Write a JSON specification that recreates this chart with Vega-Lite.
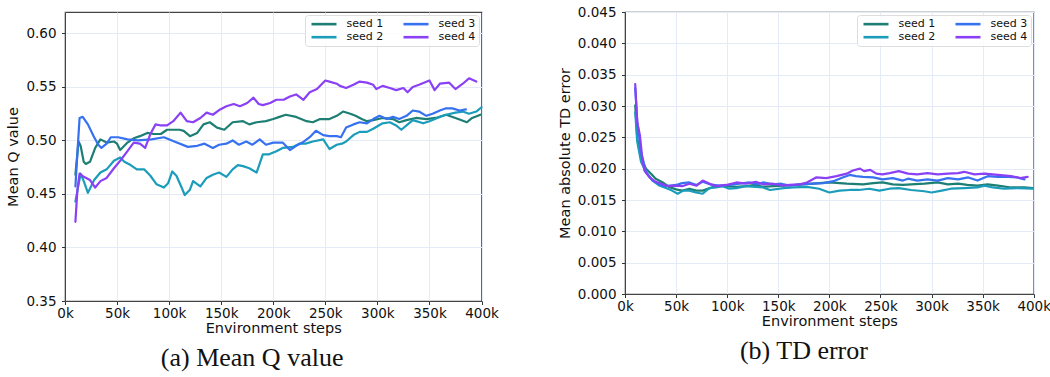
{
"$schema": "https://vega.github.io/schema/vega-lite/v6.json",
"background": "white",
"padding": {"left": 5, "top": 4, "right": 3, "bottom": 0},
"spacing": 57,
"config": {
  "font": "DejaVu Sans",
  "view": {"stroke": "#444", "strokeWidth": 1.2},
  "axis": {"labelFont": "DejaVu Sans", "labelFontSize": 13.5, "labelColor": "#111", "titleFont": "DejaVu Sans", "titleFontSize": 14.5, "titleFontWeight": "normal", "titleColor": "#111", "gridColor": "#e4ebf6", "gridWidth": 1, "tickColor": "#333", "tickSize": 3.5, "domainColor": "#444"},
  "axisY": {"labelPadding": 5.5, "titlePadding": 5},
  "axisX": {"labelPadding": 2, "titlePadding": 1},
  "legend": {"orient": "top-right", "offset": 3, "columns": 2, "symbolType": "M-1,0H9", "symbolSize": 25, "symbolStrokeWidth": 2.6, "labelFont": "DejaVu Sans", "labelFontSize": 11, "labelColor": "#111", "strokeColor": "#ddd", "fillColor": "rgba(255,255,255,0.85)", "cornerRadius": 3, "padding": 3.5, "rowPadding": 1.2, "columnPadding": 14, "labelOffset": 27, "title": null},
  "title": {"font": "Liberation Serif", "fontSize": 26, "fontWeight": "normal", "color": "#111", "orient": "bottom", "anchor": "middle", "frame": "bounds", "offset": 10}
},
"resolve": {"legend": {"color": "independent"}},
"datasets": {
"q": [
{"seed":"seed 1","step":10000,"value":0.468},{"seed":"seed 1","step":13000,"value":0.499},{"seed":"seed 1","step":15000,"value":0.495},{"seed":"seed 1","step":18000,"value":0.480},{"seed":"seed 1","step":20000,"value":0.478},{"seed":"seed 1","step":24000,"value":0.480},{"seed":"seed 1","step":29000,"value":0.493},{"seed":"seed 1","step":34000,"value":0.501},{"seed":"seed 1","step":40000,"value":0.498},{"seed":"seed 1","step":47000,"value":0.499},{"seed":"seed 1","step":50000,"value":0.497},{"seed":"seed 1","step":53000,"value":0.491},{"seed":"seed 1","step":57000,"value":0.495},{"seed":"seed 1","step":60000,"value":0.498},{"seed":"seed 1","step":66000,"value":0.502},{"seed":"seed 1","step":72000,"value":0.504},{"seed":"seed 1","step":79000,"value":0.507},{"seed":"seed 1","step":85000,"value":0.506},{"seed":"seed 1","step":92000,"value":0.506},{"seed":"seed 1","step":98000,"value":0.510},{"seed":"seed 1","step":104000,"value":0.510},{"seed":"seed 1","step":110000,"value":0.510},{"seed":"seed 1","step":114000,"value":0.509},{"seed":"seed 1","step":120000,"value":0.504},{"seed":"seed 1","step":127000,"value":0.507},{"seed":"seed 1","step":133000,"value":0.515},{"seed":"seed 1","step":139000,"value":0.517},{"seed":"seed 1","step":146000,"value":0.512},{"seed":"seed 1","step":153000,"value":0.510},{"seed":"seed 1","step":161000,"value":0.517},{"seed":"seed 1","step":171000,"value":0.518},{"seed":"seed 1","step":177000,"value":0.515},{"seed":"seed 1","step":184000,"value":0.517},{"seed":"seed 1","step":193000,"value":0.518},{"seed":"seed 1","step":200000,"value":0.520},{"seed":"seed 1","step":206000,"value":0.522},{"seed":"seed 1","step":212000,"value":0.524},{"seed":"seed 1","step":222000,"value":0.522},{"seed":"seed 1","step":232000,"value":0.518},{"seed":"seed 1","step":238000,"value":0.517},{"seed":"seed 1","step":245000,"value":0.520},{"seed":"seed 1","step":254000,"value":0.520},{"seed":"seed 1","step":261000,"value":0.523},{"seed":"seed 1","step":267000,"value":0.527},{"seed":"seed 1","step":274000,"value":0.525},{"seed":"seed 1","step":279000,"value":0.523},{"seed":"seed 1","step":285000,"value":0.520},{"seed":"seed 1","step":290000,"value":0.518},{"seed":"seed 1","step":296000,"value":0.519},{"seed":"seed 1","step":305000,"value":0.521},{"seed":"seed 1","step":315000,"value":0.520},{"seed":"seed 1","step":321000,"value":0.517},{"seed":"seed 1","step":328000,"value":0.519},{"seed":"seed 1","step":337000,"value":0.521},{"seed":"seed 1","step":347000,"value":0.520},{"seed":"seed 1","step":356000,"value":0.521},{"seed":"seed 1","step":366000,"value":0.524},{"seed":"seed 1","step":375000,"value":0.521},{"seed":"seed 1","step":386000,"value":0.517},{"seed":"seed 1","step":391000,"value":0.521},{"seed":"seed 1","step":399000,"value":0.524},
{"seed":"seed 2","step":10000,"value":0.443},{"seed":"seed 2","step":15000,"value":0.469},{"seed":"seed 2","step":18000,"value":0.462},{"seed":"seed 2","step":22000,"value":0.451},{"seed":"seed 2","step":28000,"value":0.463},{"seed":"seed 2","step":34000,"value":0.470},{"seed":"seed 2","step":40000,"value":0.473},{"seed":"seed 2","step":47000,"value":0.481},{"seed":"seed 2","step":53000,"value":0.484},{"seed":"seed 2","step":57000,"value":0.480},{"seed":"seed 2","step":63000,"value":0.477},{"seed":"seed 2","step":69000,"value":0.473},{"seed":"seed 2","step":76000,"value":0.473},{"seed":"seed 2","step":82000,"value":0.467},{"seed":"seed 2","step":88000,"value":0.459},{"seed":"seed 2","step":95000,"value":0.456},{"seed":"seed 2","step":99000,"value":0.460},{"seed":"seed 2","step":103000,"value":0.471},{"seed":"seed 2","step":107000,"value":0.467},{"seed":"seed 2","step":112000,"value":0.456},{"seed":"seed 2","step":115000,"value":0.449},{"seed":"seed 2","step":120000,"value":0.454},{"seed":"seed 2","step":123000,"value":0.462},{"seed":"seed 2","step":130000,"value":0.457},{"seed":"seed 2","step":136000,"value":0.465},{"seed":"seed 2","step":142000,"value":0.468},{"seed":"seed 2","step":148000,"value":0.470},{"seed":"seed 2","step":155000,"value":0.466},{"seed":"seed 2","step":161000,"value":0.473},{"seed":"seed 2","step":166000,"value":0.477},{"seed":"seed 2","step":171000,"value":0.476},{"seed":"seed 2","step":177000,"value":0.474},{"seed":"seed 2","step":184000,"value":0.470},{"seed":"seed 2","step":190000,"value":0.487},{"seed":"seed 2","step":196000,"value":0.487},{"seed":"seed 2","step":203000,"value":0.490},{"seed":"seed 2","step":209000,"value":0.493},{"seed":"seed 2","step":219000,"value":0.494},{"seed":"seed 2","step":225000,"value":0.497},{"seed":"seed 2","step":231000,"value":0.497},{"seed":"seed 2","step":238000,"value":0.499},{"seed":"seed 2","step":248000,"value":0.501},{"seed":"seed 2","step":254000,"value":0.492},{"seed":"seed 2","step":261000,"value":0.496},{"seed":"seed 2","step":266000,"value":0.497},{"seed":"seed 2","step":270000,"value":0.499},{"seed":"seed 2","step":277000,"value":0.505},{"seed":"seed 2","step":283000,"value":0.508},{"seed":"seed 2","step":290000,"value":0.508},{"seed":"seed 2","step":296000,"value":0.511},{"seed":"seed 2","step":305000,"value":0.516},{"seed":"seed 2","step":312000,"value":0.517},{"seed":"seed 2","step":318000,"value":0.514},{"seed":"seed 2","step":323000,"value":0.510},{"seed":"seed 2","step":328000,"value":0.514},{"seed":"seed 2","step":334000,"value":0.519},{"seed":"seed 2","step":344000,"value":0.516},{"seed":"seed 2","step":350000,"value":0.518},{"seed":"seed 2","step":360000,"value":0.522},{"seed":"seed 2","step":366000,"value":0.524},{"seed":"seed 2","step":375000,"value":0.526},{"seed":"seed 2","step":382000,"value":0.527},{"seed":"seed 2","step":388000,"value":0.525},{"seed":"seed 2","step":395000,"value":0.527},{"seed":"seed 2","step":400000,"value":0.531},
{"seed":"seed 3","step":10000,"value":0.457},{"seed":"seed 3","step":12000,"value":0.490},{"seed":"seed 3","step":14000,"value":0.521},{"seed":"seed 3","step":17000,"value":0.522},{"seed":"seed 3","step":22000,"value":0.515},{"seed":"seed 3","step":28000,"value":0.503},{"seed":"seed 3","step":32000,"value":0.496},{"seed":"seed 3","step":35000,"value":0.493},{"seed":"seed 3","step":40000,"value":0.497},{"seed":"seed 3","step":44000,"value":0.503},{"seed":"seed 3","step":51000,"value":0.503},{"seed":"seed 3","step":60000,"value":0.501},{"seed":"seed 3","step":70000,"value":0.500},{"seed":"seed 3","step":83000,"value":0.501},{"seed":"seed 3","step":95000,"value":0.503},{"seed":"seed 3","step":105000,"value":0.499},{"seed":"seed 3","step":118000,"value":0.494},{"seed":"seed 3","step":127000,"value":0.495},{"seed":"seed 3","step":134000,"value":0.497},{"seed":"seed 3","step":142000,"value":0.493},{"seed":"seed 3","step":148000,"value":0.496},{"seed":"seed 3","step":155000,"value":0.497},{"seed":"seed 3","step":161000,"value":0.500},{"seed":"seed 3","step":167000,"value":0.496},{"seed":"seed 3","step":174000,"value":0.499},{"seed":"seed 3","step":180000,"value":0.496},{"seed":"seed 3","step":187000,"value":0.501},{"seed":"seed 3","step":193000,"value":0.496},{"seed":"seed 3","step":200000,"value":0.498},{"seed":"seed 3","step":209000,"value":0.498},{"seed":"seed 3","step":216000,"value":0.491},{"seed":"seed 3","step":222000,"value":0.495},{"seed":"seed 3","step":228000,"value":0.498},{"seed":"seed 3","step":235000,"value":0.503},{"seed":"seed 3","step":241000,"value":0.509},{"seed":"seed 3","step":248000,"value":0.505},{"seed":"seed 3","step":254000,"value":0.504},{"seed":"seed 3","step":261000,"value":0.504},{"seed":"seed 3","step":265000,"value":0.503},{"seed":"seed 3","step":270000,"value":0.512},{"seed":"seed 3","step":277000,"value":0.515},{"seed":"seed 3","step":283000,"value":0.517},{"seed":"seed 3","step":290000,"value":0.516},{"seed":"seed 3","step":296000,"value":0.520},{"seed":"seed 3","step":302000,"value":0.523},{"seed":"seed 3","step":309000,"value":0.520},{"seed":"seed 3","step":315000,"value":0.522},{"seed":"seed 3","step":321000,"value":0.520},{"seed":"seed 3","step":328000,"value":0.523},{"seed":"seed 3","step":334000,"value":0.528},{"seed":"seed 3","step":340000,"value":0.527},{"seed":"seed 3","step":347000,"value":0.523},{"seed":"seed 3","step":353000,"value":0.525},{"seed":"seed 3","step":360000,"value":0.528},{"seed":"seed 3","step":366000,"value":0.530},{"seed":"seed 3","step":372000,"value":0.530},{"seed":"seed 3","step":379000,"value":0.528},{"seed":"seed 3","step":385000,"value":0.529},
{"seed":"seed 4","step":10000,"value":0.424},{"seed":"seed 4","step":12000,"value":0.455},{"seed":"seed 4","step":14000,"value":0.469},{"seed":"seed 4","step":18000,"value":0.466},{"seed":"seed 4","step":24000,"value":0.463},{"seed":"seed 4","step":29000,"value":0.456},{"seed":"seed 4","step":34000,"value":0.462},{"seed":"seed 4","step":40000,"value":0.465},{"seed":"seed 4","step":47000,"value":0.474},{"seed":"seed 4","step":53000,"value":0.481},{"seed":"seed 4","step":60000,"value":0.490},{"seed":"seed 4","step":66000,"value":0.498},{"seed":"seed 4","step":72000,"value":0.497},{"seed":"seed 4","step":77000,"value":0.493},{"seed":"seed 4","step":82000,"value":0.506},{"seed":"seed 4","step":87000,"value":0.515},{"seed":"seed 4","step":92000,"value":0.514},{"seed":"seed 4","step":98000,"value":0.514},{"seed":"seed 4","step":104000,"value":0.518},{"seed":"seed 4","step":111000,"value":0.526},{"seed":"seed 4","step":117000,"value":0.518},{"seed":"seed 4","step":123000,"value":0.517},{"seed":"seed 4","step":130000,"value":0.521},{"seed":"seed 4","step":136000,"value":0.526},{"seed":"seed 4","step":142000,"value":0.524},{"seed":"seed 4","step":149000,"value":0.529},{"seed":"seed 4","step":155000,"value":0.532},{"seed":"seed 4","step":162000,"value":0.534},{"seed":"seed 4","step":168000,"value":0.532},{"seed":"seed 4","step":175000,"value":0.535},{"seed":"seed 4","step":181000,"value":0.540},{"seed":"seed 4","step":186000,"value":0.534},{"seed":"seed 4","step":190000,"value":0.533},{"seed":"seed 4","step":197000,"value":0.535},{"seed":"seed 4","step":203000,"value":0.538},{"seed":"seed 4","step":210000,"value":0.538},{"seed":"seed 4","step":216000,"value":0.541},{"seed":"seed 4","step":222000,"value":0.543},{"seed":"seed 4","step":229000,"value":0.538},{"seed":"seed 4","step":235000,"value":0.545},{"seed":"seed 4","step":242000,"value":0.548},{"seed":"seed 4","step":250000,"value":0.556},{"seed":"seed 4","step":254000,"value":0.555},{"seed":"seed 4","step":261000,"value":0.553},{"seed":"seed 4","step":264000,"value":0.551},{"seed":"seed 4","step":270000,"value":0.549},{"seed":"seed 4","step":277000,"value":0.552},{"seed":"seed 4","step":283000,"value":0.555},{"seed":"seed 4","step":290000,"value":0.554},{"seed":"seed 4","step":296000,"value":0.552},{"seed":"seed 4","step":299000,"value":0.548},{"seed":"seed 4","step":305000,"value":0.551},{"seed":"seed 4","step":312000,"value":0.549},{"seed":"seed 4","step":318000,"value":0.547},{"seed":"seed 4","step":325000,"value":0.549},{"seed":"seed 4","step":329000,"value":0.545},{"seed":"seed 4","step":334000,"value":0.550},{"seed":"seed 4","step":340000,"value":0.552},{"seed":"seed 4","step":350000,"value":0.556},{"seed":"seed 4","step":355000,"value":0.547},{"seed":"seed 4","step":360000,"value":0.553},{"seed":"seed 4","step":369000,"value":0.554},{"seed":"seed 4","step":375000,"value":0.548},{"seed":"seed 4","step":382000,"value":0.553},{"seed":"seed 4","step":388000,"value":0.558},{"seed":"seed 4","step":395000,"value":0.555}
],
"td": [
{"seed":"seed 1","step":10000,"value":0.0301},{"seed":"seed 1","step":12000,"value":0.0248},{"seed":"seed 1","step":15700,"value":0.0216},{"seed":"seed 1","step":20600,"value":0.0200},{"seed":"seed 1","step":25500,"value":0.0192},{"seed":"seed 1","step":30000,"value":0.0184},{"seed":"seed 1","step":37000,"value":0.0178},{"seed":"seed 1","step":43000,"value":0.0171},{"seed":"seed 1","step":50000,"value":0.0167},{"seed":"seed 1","step":56000,"value":0.0165},{"seed":"seed 1","step":63000,"value":0.0168},{"seed":"seed 1","step":70000,"value":0.0165},{"seed":"seed 1","step":76000,"value":0.0165},{"seed":"seed 1","step":83000,"value":0.0169},{"seed":"seed 1","step":89000,"value":0.0172},{"seed":"seed 1","step":99000,"value":0.0172},{"seed":"seed 1","step":109000,"value":0.0171},{"seed":"seed 1","step":118000,"value":0.0172},{"seed":"seed 1","step":128000,"value":0.0174},{"seed":"seed 1","step":135000,"value":0.0171},{"seed":"seed 1","step":145000,"value":0.0172},{"seed":"seed 1","step":155000,"value":0.0173},{"seed":"seed 1","step":168000,"value":0.0174},{"seed":"seed 1","step":184000,"value":0.0176},{"seed":"seed 1","step":200000,"value":0.0178},{"seed":"seed 1","step":217000,"value":0.0176},{"seed":"seed 1","step":233000,"value":0.0175},{"seed":"seed 1","step":243000,"value":0.0177},{"seed":"seed 1","step":252000,"value":0.0178},{"seed":"seed 1","step":262000,"value":0.0175},{"seed":"seed 1","step":272000,"value":0.0174},{"seed":"seed 1","step":280000,"value":0.0175},{"seed":"seed 1","step":293000,"value":0.0176},{"seed":"seed 1","step":306000,"value":0.0178},{"seed":"seed 1","step":316000,"value":0.0175},{"seed":"seed 1","step":326000,"value":0.0176},{"seed":"seed 1","step":335000,"value":0.0174},{"seed":"seed 1","step":345000,"value":0.0173},{"seed":"seed 1","step":355000,"value":0.0175},{"seed":"seed 1","step":365000,"value":0.0173},{"seed":"seed 1","step":378000,"value":0.0170},{"seed":"seed 1","step":391000,"value":0.0170},{"seed":"seed 1","step":399000,"value":0.0169},
{"seed":"seed 2","step":10000,"value":0.0290},{"seed":"seed 2","step":12000,"value":0.0243},{"seed":"seed 2","step":15700,"value":0.0211},{"seed":"seed 2","step":21000,"value":0.0193},{"seed":"seed 2","step":27000,"value":0.0181},{"seed":"seed 2","step":33600,"value":0.0173},{"seed":"seed 2","step":40000,"value":0.0169},{"seed":"seed 2","step":46000,"value":0.0165},{"seed":"seed 2","step":51600,"value":0.0160},{"seed":"seed 2","step":57000,"value":0.0165},{"seed":"seed 2","step":63000,"value":0.0165},{"seed":"seed 2","step":69500,"value":0.0162},{"seed":"seed 2","step":76000,"value":0.0160},{"seed":"seed 2","step":82600,"value":0.0169},{"seed":"seed 2","step":89000,"value":0.0170},{"seed":"seed 2","step":95600,"value":0.0172},{"seed":"seed 2","step":102000,"value":0.0168},{"seed":"seed 2","step":109000,"value":0.0169},{"seed":"seed 2","step":118000,"value":0.0172},{"seed":"seed 2","step":128000,"value":0.0171},{"seed":"seed 2","step":135000,"value":0.0170},{"seed":"seed 2","step":142000,"value":0.0166},{"seed":"seed 2","step":155000,"value":0.0169},{"seed":"seed 2","step":165000,"value":0.0170},{"seed":"seed 2","step":178000,"value":0.0171},{"seed":"seed 2","step":190000,"value":0.0168},{"seed":"seed 2","step":200000,"value":0.0162},{"seed":"seed 2","step":210000,"value":0.0165},{"seed":"seed 2","step":220000,"value":0.0166},{"seed":"seed 2","step":229000,"value":0.0166},{"seed":"seed 2","step":239000,"value":0.0168},{"seed":"seed 2","step":249000,"value":0.0165},{"seed":"seed 2","step":259000,"value":0.0168},{"seed":"seed 2","step":268000,"value":0.0169},{"seed":"seed 2","step":280000,"value":0.0166},{"seed":"seed 2","step":293000,"value":0.0164},{"seed":"seed 2","step":300000,"value":0.0162},{"seed":"seed 2","step":310000,"value":0.0165},{"seed":"seed 2","step":319000,"value":0.0168},{"seed":"seed 2","step":332000,"value":0.0169},{"seed":"seed 2","step":345000,"value":0.0170},{"seed":"seed 2","step":352000,"value":0.0173},{"seed":"seed 2","step":360000,"value":0.0170},{"seed":"seed 2","step":371000,"value":0.0168},{"seed":"seed 2","step":384000,"value":0.0169},{"seed":"seed 2","step":399000,"value":0.0168},
{"seed":"seed 3","step":10000,"value":0.0328},{"seed":"seed 3","step":12000,"value":0.0275},{"seed":"seed 3","step":15700,"value":0.0227},{"seed":"seed 3","step":20600,"value":0.0195},{"seed":"seed 3","step":27000,"value":0.0181},{"seed":"seed 3","step":33600,"value":0.0175},{"seed":"seed 3","step":40000,"value":0.0172},{"seed":"seed 3","step":50000,"value":0.0174},{"seed":"seed 3","step":56000,"value":0.0177},{"seed":"seed 3","step":63000,"value":0.0178},{"seed":"seed 3","step":70000,"value":0.0174},{"seed":"seed 3","step":76000,"value":0.0179},{"seed":"seed 3","step":83000,"value":0.0175},{"seed":"seed 3","step":92000,"value":0.0173},{"seed":"seed 3","step":102000,"value":0.0174},{"seed":"seed 3","step":112000,"value":0.0176},{"seed":"seed 3","step":122000,"value":0.0178},{"seed":"seed 3","step":130000,"value":0.0175},{"seed":"seed 3","step":135000,"value":0.0178},{"seed":"seed 3","step":145000,"value":0.0175},{"seed":"seed 3","step":153000,"value":0.0176},{"seed":"seed 3","step":161000,"value":0.0173},{"seed":"seed 3","step":170000,"value":0.0175},{"seed":"seed 3","step":184000,"value":0.0176},{"seed":"seed 3","step":194000,"value":0.0177},{"seed":"seed 3","step":204000,"value":0.0180},{"seed":"seed 3","step":213000,"value":0.0186},{"seed":"seed 3","step":220000,"value":0.0190},{"seed":"seed 3","step":226000,"value":0.0188},{"seed":"seed 3","step":233000,"value":0.0187},{"seed":"seed 3","step":243000,"value":0.0186},{"seed":"seed 3","step":252000,"value":0.0183},{"seed":"seed 3","step":262000,"value":0.0185},{"seed":"seed 3","step":272000,"value":0.0181},{"seed":"seed 3","step":277000,"value":0.0184},{"seed":"seed 3","step":286000,"value":0.0181},{"seed":"seed 3","step":296000,"value":0.0183},{"seed":"seed 3","step":306000,"value":0.0181},{"seed":"seed 3","step":316000,"value":0.0185},{"seed":"seed 3","step":326000,"value":0.0183},{"seed":"seed 3","step":336000,"value":0.0186},{"seed":"seed 3","step":345000,"value":0.0181},{"seed":"seed 3","step":355000,"value":0.0188},{"seed":"seed 3","step":365000,"value":0.0187},{"seed":"seed 3","step":375000,"value":0.0187},{"seed":"seed 3","step":384000,"value":0.0186},{"seed":"seed 3","step":391000,"value":0.0183},
{"seed":"seed 4","step":10000,"value":0.0335},{"seed":"seed 4","step":12000,"value":0.0274},{"seed":"seed 4","step":14600,"value":0.0253},{"seed":"seed 4","step":17000,"value":0.0215},{"seed":"seed 4","step":19000,"value":0.0197},{"seed":"seed 4","step":24000,"value":0.0186},{"seed":"seed 4","step":30000,"value":0.0179},{"seed":"seed 4","step":37000,"value":0.0175},{"seed":"seed 4","step":43000,"value":0.0172},{"seed":"seed 4","step":50000,"value":0.0173},{"seed":"seed 4","step":56000,"value":0.0172},{"seed":"seed 4","step":63000,"value":0.0176},{"seed":"seed 4","step":70000,"value":0.0173},{"seed":"seed 4","step":76000,"value":0.0181},{"seed":"seed 4","step":83000,"value":0.0176},{"seed":"seed 4","step":89000,"value":0.0172},{"seed":"seed 4","step":99000,"value":0.0174},{"seed":"seed 4","step":109000,"value":0.0178},{"seed":"seed 4","step":118000,"value":0.0176},{"seed":"seed 4","step":128000,"value":0.0179},{"seed":"seed 4","step":135000,"value":0.0175},{"seed":"seed 4","step":145000,"value":0.0176},{"seed":"seed 4","step":155000,"value":0.0173},{"seed":"seed 4","step":161000,"value":0.0174},{"seed":"seed 4","step":171000,"value":0.0175},{"seed":"seed 4","step":178000,"value":0.0178},{"seed":"seed 4","step":187000,"value":0.0186},{"seed":"seed 4","step":197000,"value":0.0185},{"seed":"seed 4","step":207000,"value":0.0188},{"seed":"seed 4","step":217000,"value":0.0192},{"seed":"seed 4","step":223000,"value":0.0197},{"seed":"seed 4","step":230000,"value":0.0200},{"seed":"seed 4","step":234000,"value":0.0196},{"seed":"seed 4","step":240000,"value":0.0198},{"seed":"seed 4","step":246000,"value":0.0192},{"seed":"seed 4","step":252000,"value":0.0191},{"seed":"seed 4","step":259000,"value":0.0193},{"seed":"seed 4","step":268000,"value":0.0196},{"seed":"seed 4","step":277000,"value":0.0192},{"seed":"seed 4","step":286000,"value":0.0191},{"seed":"seed 4","step":296000,"value":0.0193},{"seed":"seed 4","step":306000,"value":0.0191},{"seed":"seed 4","step":316000,"value":0.0192},{"seed":"seed 4","step":326000,"value":0.0193},{"seed":"seed 4","step":332000,"value":0.0195},{"seed":"seed 4","step":342000,"value":0.0191},{"seed":"seed 4","step":352000,"value":0.0192},{"seed":"seed 4","step":365000,"value":0.0190},{"seed":"seed 4","step":378000,"value":0.0188},{"seed":"seed 4","step":387000,"value":0.0185},{"seed":"seed 4","step":394000,"value":0.0187}
]
},
"hconcat": [
{
  "width": 416.5, "height": 289,
  "data": {"name": "q"},
  "title": {"text": "(a) Mean Q value"},
  "mark": {"type": "line", "strokeWidth": 2.2, "strokeJoin": "round", "strokeCap": "round"},
  "encoding": {
    "x": {"field": "step", "type": "quantitative", "scale": {"domain": [0, 400000], "nice": false}, "axis": {"title": "Environment steps", "values": [0,50000,100000,150000,200000,250000,300000,350000,400000], "labelExpr": "(datum.value/1000) + 'k'", "labelFlush": false}},
    "y": {"field": "value", "type": "quantitative", "scale": {"domain": [0.35, 0.62], "nice": false, "zero": false}, "axis": {"title": "Mean Q value", "values": [0.35,0.40,0.45,0.50,0.55,0.60], "format": ".2f"}},
    "color": {"field": "seed", "type": "nominal", "scale": {"domain": ["seed 1","seed 2","seed 3","seed 4"], "range": ["#1d7f74","#1a9cba","#3671f0","#8a40f5"]}},
    "detail": {"field": "seed"}
  }
},
{
  "width": 408.7, "height": 282,
  "data": {"name": "td"},
  "title": {"text": "(b) TD error"},
  "mark": {"type": "line", "strokeWidth": 2.2, "strokeJoin": "round", "strokeCap": "round"},
  "encoding": {
    "x": {"field": "step", "type": "quantitative", "scale": {"domain": [0, 400000], "nice": false}, "axis": {"title": "Environment steps", "values": [0,50000,100000,150000,200000,250000,300000,350000,400000], "labelExpr": "(datum.value/1000) + 'k'", "labelFlush": false}},
    "y": {"field": "value", "type": "quantitative", "scale": {"domain": [0, 0.045], "nice": false}, "axis": {"title": "Mean absolute TD error", "values": [0,0.005,0.01,0.015,0.02,0.025,0.03,0.035,0.04,0.045], "format": ".3f"}},
    "color": {"field": "seed", "type": "nominal", "scale": {"domain": ["seed 1","seed 2","seed 3","seed 4"], "range": ["#1d7f74","#1a9cba","#3671f0","#8a40f5"]}},
    "detail": {"field": "seed"}
  }
}
]
}
